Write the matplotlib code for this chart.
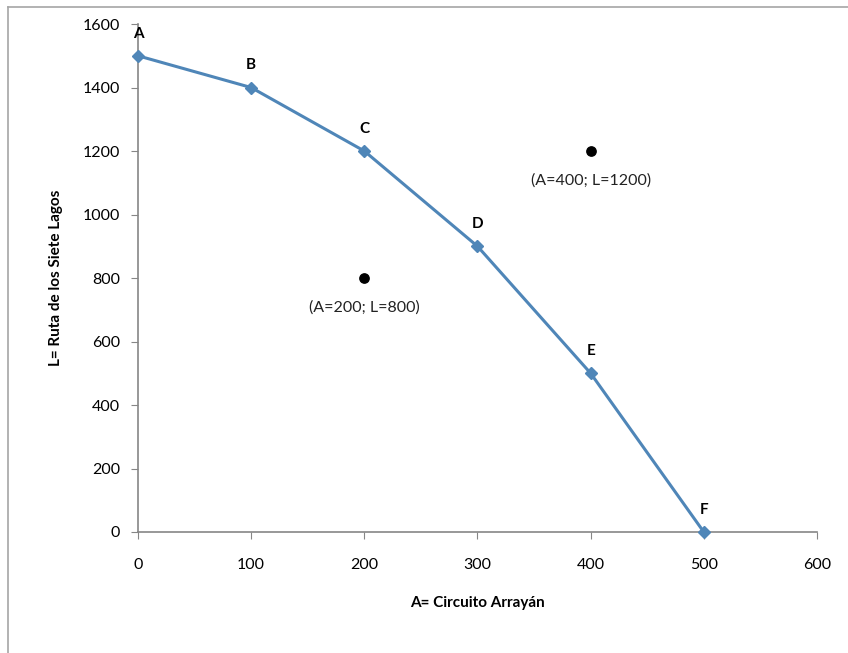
import matplotlib
matplotlib.use("Agg")
import matplotlib.pyplot as plt
from matplotlib.lines import Line2D

plt.rcParams['font.family'] = ['Lato', 'DejaVu Sans']

# Data
x_vals = [0, 100, 200, 300, 400, 500]
y_vals = [1500, 1400, 1200, 900, 500, 0]
point_labels = ['A', 'B', 'C', 'D', 'E', 'F']
extra_x = [200, 400]
extra_y = [800, 1200]
extra_labels = ['(A=200; L=800)', '(A=400; L=1200)']
x_ticks = [0, 100, 200, 300, 400, 500, 600]
y_ticks = [0, 200, 400, 600, 800, 1000, 1200, 1400, 1600]

fig = plt.figure(figsize=(8.48, 6.53), dpi=100)
ax = fig.add_axes([0.1627, 0.1853, 0.8007, 0.7779])

line_color = '#4f86b8'
ax.plot(x_vals, y_vals, color=line_color, lw=2.2, marker='D', ms=6,
        mfc=line_color, mec=line_color, zorder=3, clip_on=False)

for xv, yv, lab in zip(x_vals, y_vals, point_labels):
    ax.annotate(lab, (xv, yv), xytext=(0, 11), textcoords='offset points',
                ha='center', va='bottom', fontsize=11, fontweight='bold', color='black')

ax.scatter(extra_x, extra_y, s=45, color='black', zorder=4)
for xv, yv, lab in zip(extra_x, extra_y, extra_labels):
    ax.annotate(lab, (xv, yv), xytext=(0, -16), textcoords='offset points',
                ha='center', va='top', fontsize=11.5, color='#222222')

ax.set_xlim(0, 600)
ax.set_ylim(0, 1600)
ax.set_xticks(x_ticks)
ax.set_yticks(y_ticks)
ax.tick_params(axis='both', direction='out', length=5, color='#868686',
               labelsize=11.5, labelcolor='black', pad=8)
ax.tick_params(axis='x', pad=14)
for s in ['top', 'right']:
    ax.spines[s].set_visible(False)
for s in ['left', 'bottom']:
    ax.spines[s].set_color('#868686')
    ax.spines[s].set_linewidth(1.2)

ax.set_xlabel('A= Circuito Arrayán', fontsize=11, fontweight='bold', labelpad=17)
ax.set_ylabel('L= Ruta de los Siete Lagos', fontsize=11, fontweight='bold', labelpad=14)

# Outer chart frame (left and top edges visible)
fig.add_artist(Line2D([0.009, 0.009], [0, 0.989], transform=fig.transFigure,
                      color='#a6a6a6', lw=1.2))
fig.add_artist(Line2D([0.009, 1.0], [0.989, 0.989], transform=fig.transFigure,
                      color='#a6a6a6', lw=1.2))

fig.savefig('out.png', dpi=100)
